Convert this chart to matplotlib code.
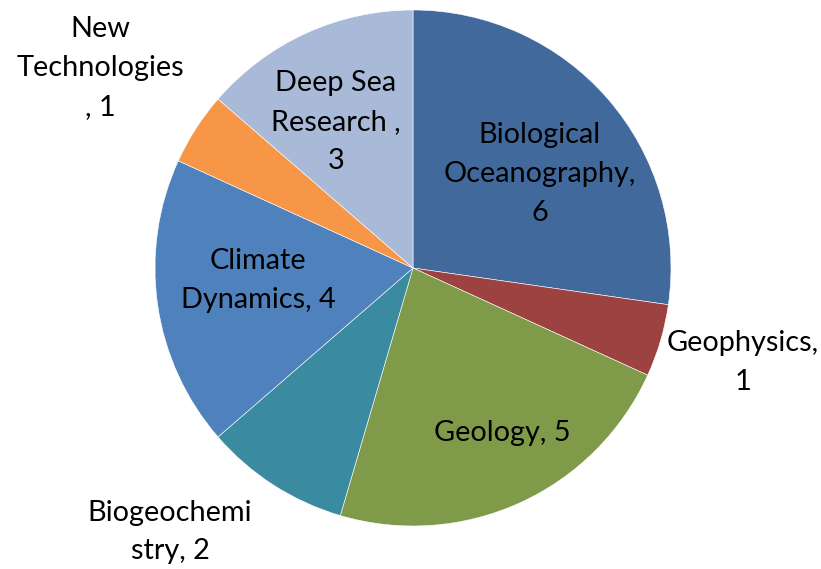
import matplotlib.pyplot as plt
import numpy as np

labels = ["Biological\nOceanography,\n6", "Geophysics,\n1", "Geology, 5",
          "Biogeochemi\nstry, 2", "Climate\nDynamics, 4", "New\nTechnologies\n, 1",
          "Deep Sea\nResearch ,\n3"]
values = [6, 1, 5, 2, 4, 1, 3]
colors = ["#41699c", "#9c4240", "#7f9a48", "#3b8ba0", "#4f81bd", "#f79646", "#a9b9d8"]

# where each label sits (radius in pie radii, angle in degrees)
lab_r = [0.612, 1.331, 0.727, 1.391, 0.603, 1.439, 0.640]
lab_ang = [36.5, -16.0, -61.7, -132.6, -175.5, 147.4, 117.8]

fig = plt.figure(figsize=(8.21, 5.69), dpi=100)
ax = fig.add_axes([0, 0, 1, 1])

ax.pie(values, colors=colors, startangle=90, counterclock=False, radius=1,
       wedgeprops=dict(edgecolor="white", linewidth=0.4))

for txt, r, a in zip(labels, lab_r, lab_ang):
    x = r * np.cos(np.radians(a))
    y = r * np.sin(np.radians(a))
    ax.text(x, y, txt, ha="center", va="center", fontsize=20.8,
            family="Lato", linespacing=1.6, color="black")

ax.set_xlim(-413 / 258, (821 - 413) / 258)
ax.set_ylim(-(569 - 268) / 258, 268 / 258)
ax.set_aspect("auto")
ax.axis("off")

fig.savefig("out.png", dpi=100)
